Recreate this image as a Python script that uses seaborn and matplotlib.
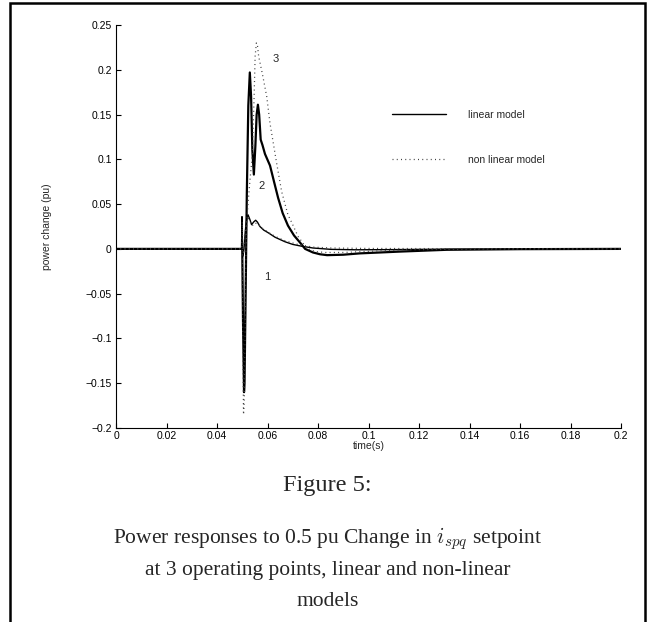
import numpy as np
import pandas as pd
import matplotlib
matplotlib.use("Agg")
import matplotlib.pyplot as plt
import seaborn as sns
from matplotlib.lines import Line2D
from matplotlib.patches import Rectangle

# ---------------- data ----------------
# operating point 1, linear model
t_lin1 = [0.0, 0.0497, 0.0499, 0.0501, 0.0503, 0.0507, 0.0512, 0.0518, 0.0523,
          0.0530, 0.0537, 0.0545, 0.0553, 0.0560, 0.0570, 0.0585, 0.0603,
          0.0630, 0.0669, 0.0700, 0.0735, 0.0780, 0.0850, 0.0950, 0.1100, 0.1300, 0.2000]
p_lin1 = [0.0, 0.0, 0.036, 0.0, -0.008, 0.0, 0.020, 0.034, 0.038,
          0.033, 0.027, 0.030, 0.032, 0.030, 0.025, 0.021, 0.018,
          0.013, 0.008, 0.005, 0.003, 0.001, -0.0005, -0.001, -0.0008, -0.0003, 0.0]

# operating point 2, linear model
t_lin2 = [0.0, 0.0500, 0.0503, 0.0507, 0.0509, 0.0513, 0.0518, 0.0524, 0.0530,
          0.0535, 0.0540, 0.0546, 0.0552, 0.0557, 0.0562, 0.0567, 0.0573,
          0.0580, 0.0590, 0.0610, 0.0625, 0.0642, 0.0660, 0.0681, 0.0705,
          0.0729, 0.0749, 0.0780, 0.0808, 0.0836, 0.0900, 0.0966, 0.1125,
          0.1310, 0.1600, 0.2000]
p_lin2 = [0.0, 0.0, -0.080, -0.160, -0.150, -0.060, 0.060, 0.160, 0.197,
          0.170, 0.110, 0.083, 0.115, 0.150, 0.161, 0.150, 0.122,
          0.116, 0.106, 0.093, 0.076, 0.057, 0.040, 0.026, 0.015,
          0.007, 0.000, -0.004, -0.006, -0.007, -0.0065, -0.005, -0.003,
          -0.001, -0.0003, 0.0]

# operating point 1, non linear model
t_non1 = [0.0, 0.0498, 0.0500, 0.0502, 0.0505, 0.0510, 0.0516, 0.0524, 0.0532,
          0.0540, 0.0550, 0.0560, 0.0575, 0.0600, 0.0630, 0.0670, 0.0720,
          0.0780, 0.0850, 0.1000, 0.1300, 0.2000]
p_non1 = [0.0, 0.0, 0.030, 0.004, -0.006, 0.012, 0.028, 0.034, 0.030,
          0.026, 0.029, 0.028, 0.024, 0.019, 0.014, 0.009, 0.005,
          0.002, 0.001, 0.0005, 0.0003, 0.0]

# operating point 3, non linear model
t_non3 = [0.0, 0.0500, 0.0502, 0.0505, 0.0508, 0.0511, 0.0515, 0.0520, 0.0530,
          0.0540, 0.0547, 0.0551, 0.0556, 0.0560, 0.0565, 0.0580, 0.0597,
          0.0610, 0.0636, 0.0656, 0.0681, 0.0695, 0.0721, 0.0749, 0.0760,
          0.0790, 0.0830, 0.0900, 0.0980, 0.1150, 0.1500, 0.2000]
p_non3 = [0.0, 0.0, -0.100, -0.185, -0.170, -0.100, 0.000, 0.040, 0.075,
          0.105, 0.170, 0.215, 0.230, 0.228, 0.215, 0.195, 0.170,
          0.140, 0.096, 0.064, 0.038, 0.030, 0.014, 0.003, 0.000,
          -0.003, -0.004, -0.004, -0.003, -0.001, 0.0, 0.0]

curve_labels = ["1", "2", "3"]
label_t = [0.0598, 0.0578, 0.0634]
label_p = [-0.031, 0.070, 0.212]

x_ticks = [0, 0.02, 0.04, 0.06, 0.08, 0.1, 0.12, 0.14, 0.16, 0.18, 0.2]
y_ticks = [-0.2, -0.15, -0.1, -0.05, 0, 0.05, 0.1, 0.15, 0.2, 0.25]

legend_labels = ["linear model", "non linear model"]
caption_title = "Figure 5:"
caption_lines = ["Power responses to 0.5 pu Change in $i_{spq}$ setpoint",
                 "at 3 operating points, linear and non-linear",
                 "models"]

# ---------------- styling ----------------
sns.set_theme(style="ticks")
plt.rcParams["font.family"] = ["Liberation Sans", "DejaVu Sans"]
plt.rcParams["mathtext.fontset"] = "cm"
plt.rcParams["axes.unicode_minus"] = True

W, H = 655, 622
fig = plt.figure(figsize=(W / 100, H / 100), dpi=100)
fig.patch.set_facecolor("white")

ax = fig.add_axes([116 / W, 1 - 428 / H, 505 / W, 403 / H])
ax.set_facecolor("white")

dot_dash = (0.8, 2.6)

sns.lineplot(x=t_lin1, y=p_lin1, ax=ax, color="black", lw=1.0, sort=False,
             estimator=None)
sns.lineplot(x=t_lin2, y=p_lin2, ax=ax, color="black", lw=1.6, sort=False,
             estimator=None)
sns.lineplot(x=t_non1, y=p_non1, ax=ax, color="0.25", lw=0.9, sort=False,
             estimator=None)
sns.lineplot(x=t_non3, y=p_non3, ax=ax, color="0.25", lw=0.9, sort=False,
             estimator=None)
for ln in ax.get_lines()[2:]:
    ln.set_dashes(dot_dash)

for lab, tx, py in zip(curve_labels, label_t, label_p):
    ax.text(tx, py, lab, fontsize=8, ha="center", va="center")

ax.set_xlim(0, 0.2)
ax.set_ylim(-0.2, 0.25)
ax.set_xticks(x_ticks)
ax.set_yticks(y_ticks)

def fmt(v):
    s = "%g" % v
    return s.replace("-", "\u2212")

ax.set_xticklabels([fmt(v) for v in x_ticks])
ax.set_yticklabels([fmt(v) for v in y_ticks])
ax.tick_params(direction="in", length=3.6, width=0.8, labelsize=7.5,
               colors="black", pad=3)
ax.tick_params(axis="x", pad=2)
for s in ["top", "right"]:
    ax.spines[s].set_visible(False)
for s in ["left", "bottom"]:
    ax.spines[s].set_linewidth(0.8)
    ax.spines[s].set_color("black")

ax.set_xlabel("time(s)", fontsize=7.5, labelpad=0)
ax.set_ylabel("power change (pu)", fontsize=7.5, labelpad=24)

handles = [Line2D([], [], color="black", lw=1.0),
           Line2D([], [], color="0.25", lw=0.9, dashes=dot_dash)]
ax.legend(handles, legend_labels, loc="upper left",
          bbox_to_anchor=(0.547, 0.79), frameon=False, fontsize=7.5,
          handlelength=5.2, handletextpad=2.1, labelspacing=3.4,
          borderpad=0, borderaxespad=0)

# caption
fig.text(0.5, 1 - 486 / H, caption_title, ha="center", va="center",
         fontsize=17.5, family="Liberation Serif")
for i, line in enumerate(caption_lines):
    y = [539, 571, 601][i]
    fig.text(0.5, 1 - y / H, line, ha="center", va="center",
             fontsize=15.5, family="Liberation Serif")

# page frame
fig.add_artist(Rectangle((10 / W, -0.05), 635 / W, 1.05 - 3 / H,
                         transform=fig.transFigure, fill=False,
                         edgecolor="black", lw=1.8))

fig.savefig("out.png", dpi=100, facecolor="white")
